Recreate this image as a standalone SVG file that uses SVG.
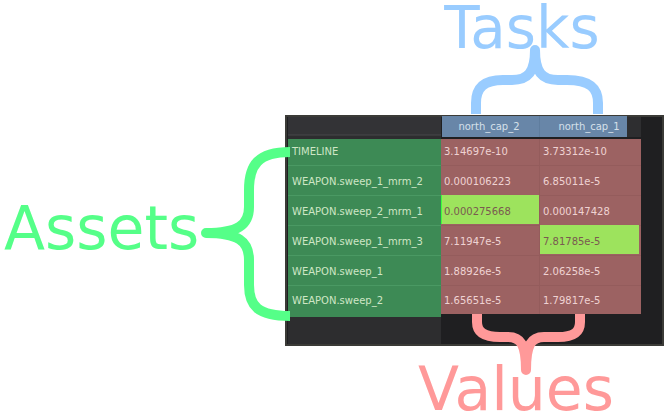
<svg xmlns="http://www.w3.org/2000/svg" width="665" height="418" viewBox="0 0 665 418">
<style>
.big{font-family:"DejaVu Sans",sans-serif;font-size:60px}
.cell{font-family:"DejaVu Sans",sans-serif;font-size:10px}
.asset{fill:#cfe6c6}
.val{fill:#efd2d2}
.hval{fill:#7a5a50}
.hdr{fill:#d6e0ea;text-anchor:middle}
.brace{fill:none;stroke-width:10;stroke-linecap:butt;stroke-linejoin:round}
</style>
<rect width="665" height="418" fill="#ffffff"/>
<g id="panel">
<rect x="286" y="116" width="377" height="229" fill="#1f1f21" stroke="#3b3b37" stroke-width="2"/>
<rect x="288" y="117" width="153" height="227" fill="#2d2d2f"/>
<rect x="288" y="117" width="153" height="18" fill="#333336"/>
<line x1="288" y1="135" x2="441" y2="135" stroke="#48484b" stroke-width="1"/>
<rect x="627" y="117" width="14" height="20" fill="#2e2e30"/>
<rect x="441" y="314" width="200" height="30" fill="#1f1f21"/>
</g>
<g id="header">
<rect x="442" y="116" width="185" height="21" fill="#6886a8"/>
<line x1="539.5" y1="116" x2="539.5" y2="137" stroke="#5f7d9e" stroke-width="1"/>
<text class="cell hdr" x="489" y="130">north_cap_2</text>
<text class="cell hdr" x="589" y="130">north_cap_1</text>
</g>
<g id="assets-column">
<rect x="288" y="139" width="153" height="178" fill="#3d8a55"/>
<g stroke="#4a9963" stroke-width="1">
<line x1="288" y1="165.5" x2="441" y2="165.5"/>
<line x1="288" y1="195.5" x2="441" y2="195.5"/>
<line x1="288" y1="225.5" x2="441" y2="225.5"/>
<line x1="288" y1="255.5" x2="441" y2="255.5"/>
<line x1="288" y1="285.5" x2="441" y2="285.5"/>
</g>
<text class="cell asset" x="292" y="155">TIMELINE</text>
<text class="cell asset" x="292" y="185">WEAPON.sweep_1_mrm_2</text>
<text class="cell asset" x="292" y="215">WEAPON.sweep_2_mrm_1</text>
<text class="cell asset" x="292" y="245">WEAPON.sweep_1_mrm_3</text>
<text class="cell asset" x="292" y="275">WEAPON.sweep_1</text>
<text class="cell asset" x="292" y="304">WEAPON.sweep_2</text>
</g>
<g id="values">
<rect x="441" y="139" width="200" height="175" fill="#9c6262"/>
<g stroke="#945c5c" stroke-width="1">
<line x1="539.5" y1="139" x2="539.5" y2="314"/>
<line x1="441" y1="165.5" x2="641" y2="165.5"/>
<line x1="441" y1="195.5" x2="641" y2="195.5"/>
<line x1="441" y1="225.5" x2="641" y2="225.5"/>
<line x1="441" y1="255.5" x2="641" y2="255.5"/>
<line x1="441" y1="285.5" x2="641" y2="285.5"/>
</g>
<rect x="441" y="195" width="98" height="29" fill="#9de35d"/>
<rect x="441" y="195" width="1" height="29" fill="#3dff3d"/>
<rect x="540" y="225" width="99" height="29" fill="#9de35d"/>
<text class="cell val" x="444" y="155">3.14697e-10</text>
<text class="cell val" x="543" y="155">3.73312e-10</text>
<text class="cell val" x="444" y="185">0.000106223</text>
<text class="cell val" x="543" y="185">6.85011e-5</text>
<text class="cell hval" x="444" y="215">0.000275668</text>
<text class="cell val" x="543" y="215">0.000147428</text>
<text class="cell val" x="444" y="245">7.11947e-5</text>
<text class="cell hval" x="543" y="245">7.81785e-5</text>
<text class="cell val" x="444" y="275">1.88926e-5</text>
<text class="cell val" x="543" y="275">2.06258e-5</text>
<text class="cell val" x="444" y="304">1.65651e-5</text>
<text class="cell val" x="543" y="304">1.79817e-5</text>
</g>
<g id="assets-label">
<text class="big" x="4" y="249" fill="#55ff88">Assets</text>
<path class="brace" stroke="#55ff88" d="M290,152 C258,152 249,165 249,190 L249,207 C249,225 238,233 206,233 C238,233 249,241 249,260 L249,285 C249,306 258,316 290,316"/>
</g>
<g id="tasks-label">
<text class="big" x="522" y="48" fill="#99ccff" text-anchor="middle" style="font-size:58px">Tasks</text>
<path class="brace" stroke="#99ccff" d="M476,114 L476,103 C476,88 484,80 503,80 L512,80 C528,80 535,72 535,50 C535,72 542,80 558,80 L567,80 C590,80 598,88 598,103 L598,114"/>
</g>
<g id="values-label">
<text class="big" x="418" y="410" fill="#ff9999">Values</text>
<path class="brace" stroke="#ff9999" d="M477,314 L477,322 C477,332 484,337 500,337 L508,337 C521,337 526,345 526,370 C526,345 531,337 544,337 L558,337 C574,337 580,332 580,322 L580,314"/>
</g>
</svg>
